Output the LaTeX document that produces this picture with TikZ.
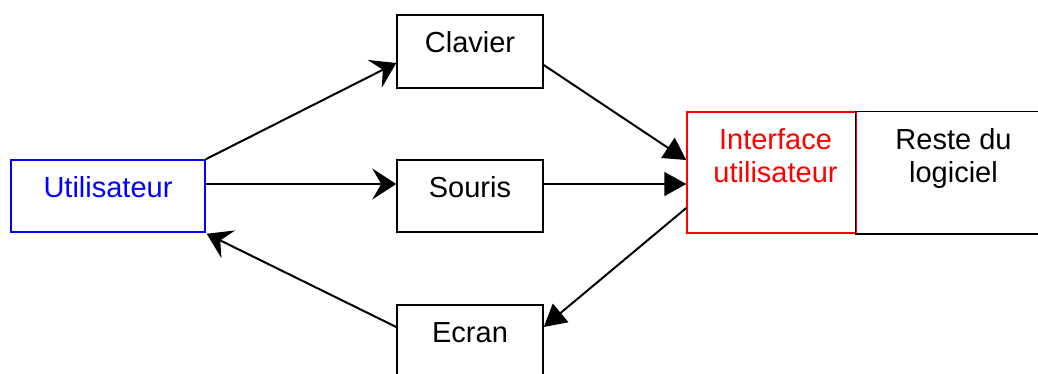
\documentclass[tikz,border=0pt]{standalone}
\usepackage{fontspec}
\setmainfont{Liberation Sans}
\usetikzlibrary{arrows.meta}
\definecolor{myblue}{RGB}{0,0,255}
\definecolor{myred}{RGB}{255,0,0}
\begin{document}
\begin{tikzpicture}[x=1pt,y=-1pt,
  box/.style={draw,line width=1.5pt,inner sep=0pt},
  txt/.style={font=\fontsize{29}{33}\selectfont,anchor=base,inner sep=0pt},
  sarrow/.style={line width=2pt,-{Stealth[length=24pt,width=31pt,inset=9pt]}},
  tarrow/.style={line width=2pt,-{Triangle[length=22pt,width=24pt]}}]
\useasboundingbox (0,0) rectangle (1038,373);
\clip (0,0) rectangle (1038,373);
\node[box,draw=myblue,minimum width=194pt,minimum height=72pt] (u) at (108,196) {};
\node[box,minimum width=146pt,minimum height=73pt] (c) at (470,51.5) {};
\node[box,minimum width=146pt,minimum height=72pt] (s) at (470,196) {};
\node[box,minimum width=146pt,minimum height=72pt] (e) at (470,341) {};
\node[box,draw=myred,minimum width=169pt,minimum height=121pt] (i) at (771.5,172.5) {};
\node[box,draw=none,minimum width=195pt,minimum height=121pt] (r) at (953.5,172.5) {};
\draw[line width=1.5pt] (r.north east) -- (r.north west) -- (r.south west) -- (r.south east);
\node[txt,text=myblue] (ut) at ([yshift=-38pt]u.north) {Utilisateur};
\node[txt] (ct) at ([yshift=-38pt]c.north) {Clavier};
\node[txt] (st) at ([yshift=-38pt]s.north) {Souris};
\node[txt] (et) at ([yshift=-38pt]e.north) {Ecran};
\node[txt,text=myred] (it1) at ([xshift=4pt,yshift=-38pt]i.north) {Interface};
\node[txt,text=myred] (it2) at ([xshift=4pt,yshift=-71pt]i.north) {utilisateur};
\node[txt] (rt1) at ([yshift=-38pt]r.north) {Reste du};
\node[txt] (rt2) at ([yshift=-71pt]r.north) {logiciel};
\draw[sarrow] (u.north east) -- ([yshift=-11.5pt]c.west);
\draw[sarrow] ([yshift=12pt]u.east) -- ([yshift=12pt]s.west);
\draw[sarrow] ([yshift=14pt]e.west) -- ([xshift=1pt,yshift=-1pt]u.south east);
\draw[tarrow] ([yshift=-13.5pt]c.east) -- ([yshift=12.5pt]i.west);
\draw[tarrow] ([yshift=12pt]s.east) -- ([yshift=-11.5pt]i.west);
\draw[tarrow] ([yshift=-35.5pt]i.west) -- ([yshift=14pt]e.east);
\end{tikzpicture}
\end{document}
